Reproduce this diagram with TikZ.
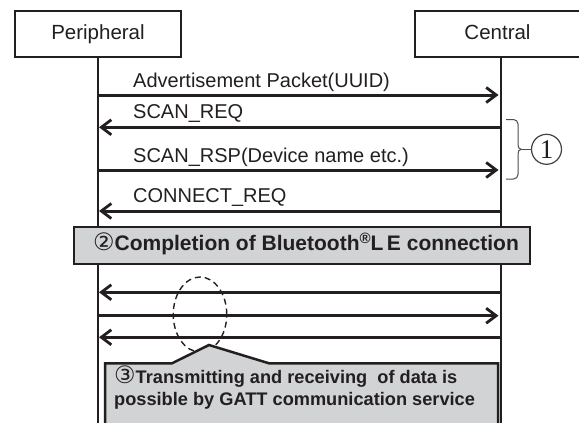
\documentclass[tikz,border=0pt]{standalone}
\usepackage{fontspec}
\setmainfont{Liberation Sans}
\newfontfamily\symfont{DejaVu Sans}
\newfontfamily\digitfont{Liberation Serif}
\usetikzlibrary{arrows.meta,shapes.geometric}
\definecolor{ink}{HTML}{231F20}
\definecolor{panel}{HTML}{D1D3D4}
% circled step number set inside bold running text
\newcommand{\stepmark}[1]{\raisebox{0pt}[0pt][0pt]{\symfont\mdseries\fontsize{24}{24}\selectfont #1}}
\tikzset{
  actor/.style={draw=ink, line width=2pt, minimum height=46pt, inner sep=0pt,
    text height=14.8pt, text depth=4.2pt,
    text=ink, font=\fontsize{20.5}{24}\selectfont},
  life/.style={draw=ink, line width=1.4pt},
  msg/.style={draw=ink, line width=3pt,
    -{Straight Barb[length=10pt,width=15pt,line width=2.8pt]}},
  msglabel/.style={anchor=base west, inner sep=0pt, text=ink,
    font=\fontsize{20}{24}\selectfont},
  band/.style={draw=ink, line width=2.5pt, fill=panel, inner sep=0pt,
    text height=15pt, text depth=4.5pt,
    text=ink, font=\fontsize{21}{25}\selectfont\bfseries},
  brace/.style={draw=ink!80, line width=1pt},
  focus/.style={draw=ink, line width=1.4pt, dash pattern=on 6pt off 4pt,
    ellipse, inner sep=0pt},
  callout/.style={draw=ink, line width=2.5pt, fill=panel, line join=miter}
}
\begin{document}
\begin{tikzpicture}[x=1pt,y=-1pt]
\useasboundingbox (0,0) rectangle (579,423);
\fill[white] (0,0) rectangle (579,423);

% participants
\node[actor, minimum width=166pt] (per) at (98,34) {Peripheral};
\node[actor, minimum width=172pt] (cen) at (501,34) {Central\hspace*{7pt}};

% lifelines
\coordinate (pend) at (98,430);
\coordinate (cend) at (501,430);
\draw[life] (per.south) -- (pend);
\draw[life] (cen.south) -- (cend);

% advertising / scan / connect messages
\coordinate (p1) at (98,95);    \coordinate (c1) at (498.5,95);
\coordinate (p2) at (99,127.3); \coordinate (c2) at (499.5,127.3);
\coordinate (p3) at (98,170);   \coordinate (c3) at (498.5,170);
\coordinate (p4) at (99,211);   \coordinate (c4) at (499.5,211);
\draw[msg] (p1) -- (c1);
\draw[msg] (c2) -- (p2);
\draw[msg] (p3) -- (c3);
\draw[msg] (c4) -- (p4);
\node[msglabel] (l1) at (133,87) {Advertisement Packet(UUID)};
\node[msglabel] (l2) at (133,118.5) {SCAN\_REQ};
\node[msglabel] (l3) at (133,162.5) {SCAN\_RSP(Device name etc.)};
\node[msglabel] (l4) at (133,202.5) {CONNECT\_REQ};

% brace grouping the scan phase
\coordinate (btop) at (506,119.5);
\coordinate (bbot) at (506,179);
\coordinate (btip) at (521,149.3);
\draw[brace] (btop) -- (513.5,119.5) to[out=0,in=90] (518,124) -- (518,144.5)
  to[out=-90,in=180] (btip) to[out=180,in=90] (518,154) -- (518,174.5)
  to[out=-90,in=0] (513.5,179) -- (bbot);
\node[circle, draw=ink!85, line width=1.2pt, minimum size=30pt, inner sep=0pt,
  text=ink, font=\digitfont\fontsize{27}{27}\selectfont] (one) at (546.5,149.3)
  {1};
\draw[brace] (btip) -- (one.west);

% connection established
\node[band, minimum width=456pt, minimum height=37pt] (conn) at (302,245.5)
  {\hspace*{8pt}\stepmark{②}Completion of Bluetooth\raisebox{0.62ex}{\fontsize{15}{15}\selectfont ®}L\,E connection};

% data exchange
\coordinate (p5) at (99,292.3);  \coordinate (c5) at (499.5,292.3);
\coordinate (p6) at (98,315.7);  \coordinate (c6) at (498.5,315.7);
\coordinate (p7) at (99,337.3);  \coordinate (c7) at (499.5,337.3);
\draw[msg] (c5) -- (p5);
\draw[msg] (p6) -- (c6);
\draw[msg] (c7) -- (p7);

\node[focus, minimum width=53.5pt, minimum height=75pt] (exch) at (200,314.5) {};

% callout explaining the exchange
\coordinate (tl) at (105,363.3);
\coordinate (kl) at (172,363.3);
\coordinate (kp) at (209,345);
\coordinate (kr) at (269,363.3);
\coordinate (tr) at (498,363.3);
\coordinate (br) at (498,440);
\coordinate (bl) at (105,440);
\draw[callout] (tl) -- (kl) -- (kp) -- (kr) -- (tr) -- (br) -- (bl) -- cycle;
\node[anchor=base west, inner sep=0pt, align=left, text=ink,
  font=\fontsize{18.2}{22}\selectfont\bfseries] (note) at (114,405)
  {\stepmark{③}Transmitting and receiving\ \ of data is\\possible by GATT communication service};
\end{tikzpicture}
\end{document}
